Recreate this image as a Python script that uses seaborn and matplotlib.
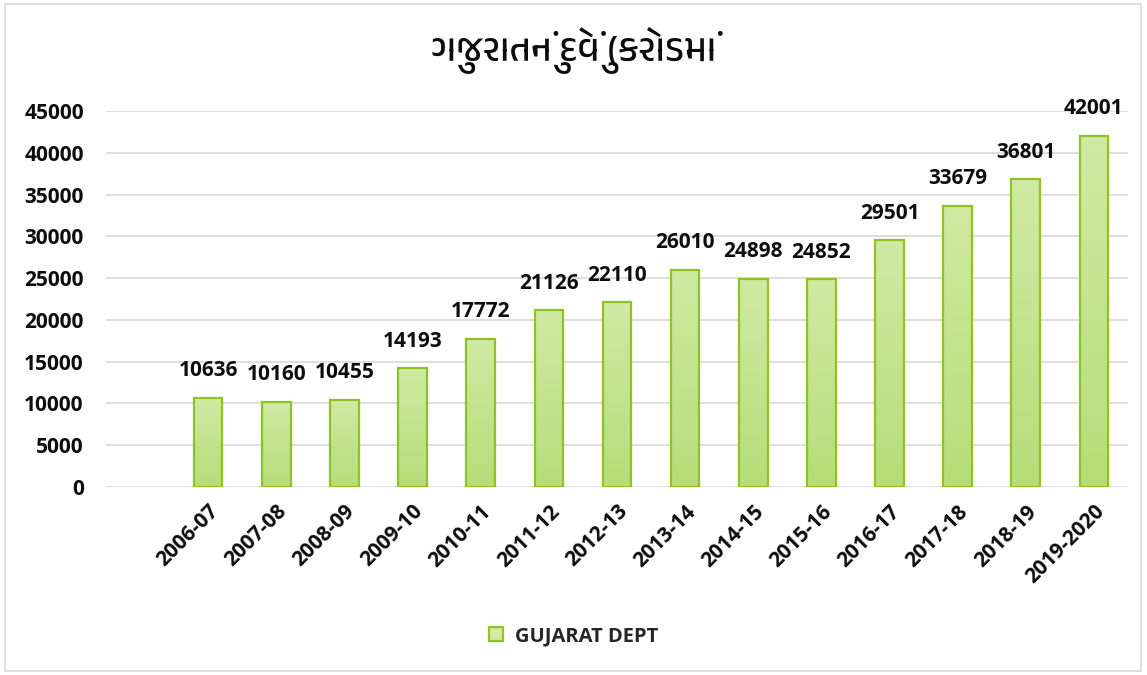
import numpy as np
import matplotlib
matplotlib.use("Agg")
import matplotlib.pyplot as plt
from matplotlib import font_manager
from matplotlib.ft2font import FT2Font
from matplotlib.patches import Patch, Rectangle
import seaborn as sns

YEARS = ["2006-07", "2007-08", "2008-09", "2009-10", "2010-11", "2011-12", "2012-13",
         "2013-14", "2014-15", "2015-16", "2016-17", "2017-18", "2018-19", "2019-2020"]
DEBT = [10636, 10160, 10455, 14193, 17772, 21126, 22110,
        26010, 24898, 24852, 29501, 33679, 36801, 42001]
Y_TICKS = list(range(0, 45001, 5000))
TITLE = "ગુજરાતનું દેવું (કરોડમાં"
SERIES = "GUJARAT DEPT"

EDGE = "#8fc31f"
TOP_C = "#cfeaa3"
BOT_C = "#b6dd79"
TXT = "#0d0d0d"
FS = 15


def fonts_with(ch):
    names = []
    for f in font_manager.fontManager.ttflist:
        try:
            if ord(ch) in FT2Font(f.fname).get_charmap():
                names.append(f.name)
        except Exception:
            pass
    # prefer a dedicated Gujarati family
    names.sort(key=lambda n: (0 if "gujarati" in n.lower() else 1 if "noto" in n.lower() else 2))
    return names


sns.set_theme(style="white")
plt.rcParams['font.family'] = ['Open Sans', 'DejaVu Sans']
guj = fonts_with("ગ")
title_family = guj[:1] + ['Noto Sans', 'DejaVu Sans']

fig = plt.figure(figsize=(11.47, 6.75), dpi=100)
fig.patches.append(Rectangle((0.004, 0.006), 0.991, 0.988, transform=fig.transFigure,
                             fill=False, edgecolor="#d9d9d9", linewidth=1.2))
ax = fig.add_axes([0.0924, 0.2785, 0.891, 0.5571])

sns.barplot(x=YEARS, y=DEBT, ax=ax, color=BOT_C, width=0.42,
            edgecolor=EDGE, linewidth=1.6, zorder=3)

# gradient fill inside each bar
grad = np.linspace(0, 1, 256).reshape(-1, 1)
cmap = matplotlib.colors.LinearSegmentedColormap.from_list("g", [BOT_C, TOP_C])
for p in ax.patches:
    x0, y0, w, h = p.get_x(), p.get_y(), p.get_width(), p.get_height()
    im = ax.imshow(grad, cmap=cmap, origin="lower", aspect="auto",
                   extent=(x0, x0 + w, y0, y0 + h), zorder=3.5)
    im.set_clip_path(p)
    p.set_zorder(4)
    p.set_facecolor("none")
ax.set_xlim(-1.5, len(YEARS) - 0.5)
ax.set_ylim(0, 45000)

for i, v in enumerate(DEBT):
    ax.annotate(f"{v}", (i, v), xytext=(0, 12), textcoords="offset points",
                ha="center", va="bottom", fontsize=FS, fontweight="bold", color=TXT)

ax.set_yticks(Y_TICKS)
ax.set_yticklabels([str(t) for t in Y_TICKS], fontsize=FS, fontweight="bold", color=TXT)
ax.tick_params(axis="y", length=0, pad=16)
ax.tick_params(axis="x", length=0, pad=10)
ax.set_xticks(range(len(YEARS)))
ax.set_xticklabels(YEARS, rotation=45, ha="right", rotation_mode="anchor",
                   fontsize=FS, fontweight="bold", color=TXT)
ax.grid(axis="y", color="#d9d9d9", linewidth=1.2, zorder=0)
ax.set_axisbelow(True)
for s in ax.spines.values():
    s.set_visible(False)
ax.set_xlabel("")
ax.set_ylabel("")

fig.text(0.5, 1 - 50 / 675, TITLE, ha="center", va="center", fontsize=27,
         fontweight="semibold", family=title_family, color=TXT)

fig.legend(handles=[Patch(facecolor=TOP_C, edgecolor=EDGE, linewidth=1.6, label=SERIES)],
           loc="center", bbox_to_anchor=(0.5, 1 - 636 / 675), frameon=False,
           handlelength=0.7, handleheight=0.7, handletextpad=0.6,
           prop={"weight": "bold", "size": 14.5})

fig.savefig("out.png", dpi=100)
